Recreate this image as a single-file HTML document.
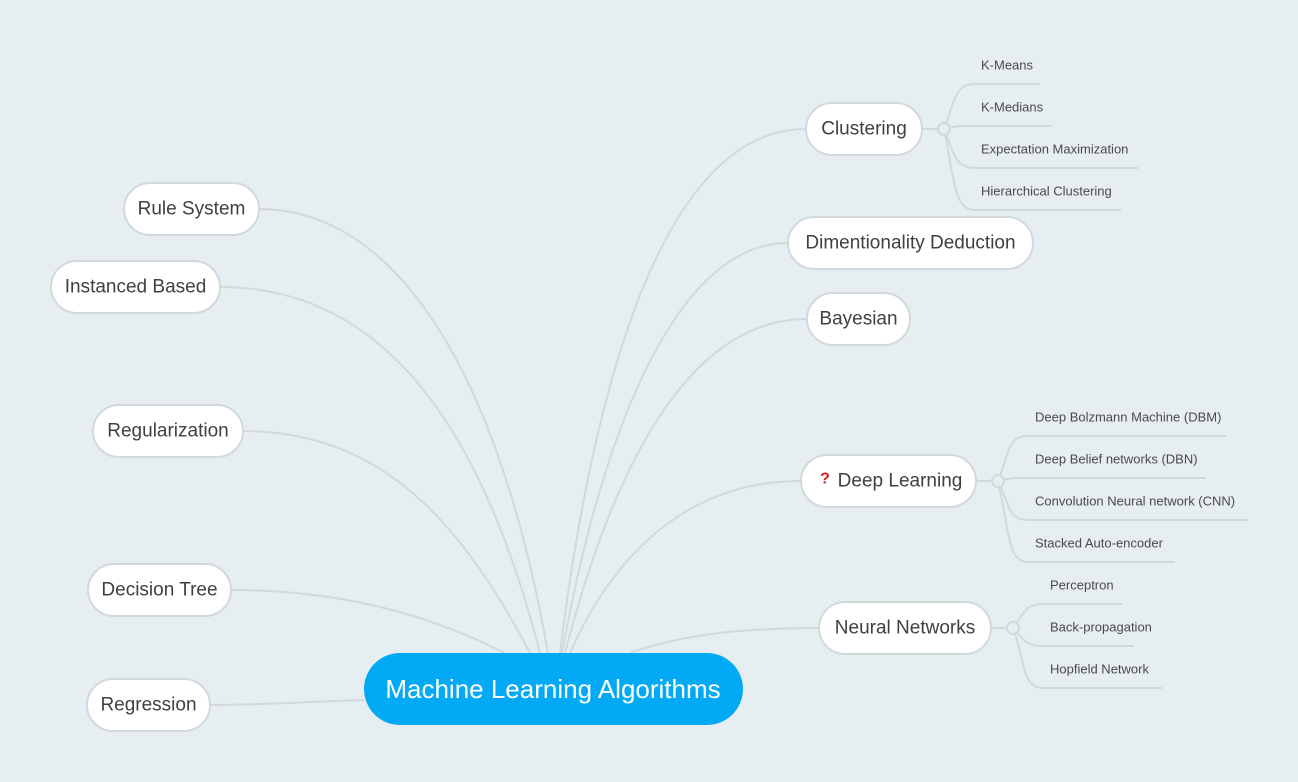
<!DOCTYPE html>
<html><head><meta charset="utf-8"><style>
html,body{margin:0;padding:0;background:#e6eef2;}
svg{display:block;font-family:"Liberation Sans",sans-serif;}
.n{fill:#fff;stroke:#d2d9dd;stroke-width:2;}
.t{font-size:19px;fill:#404040;text-anchor:middle;dominant-baseline:central;}
.l{font-size:13px;fill:#4a4a4a;dominant-baseline:central;}
.c{fill:none;stroke:#d2d9dd;stroke-width:2;}
</style></head><body>
<svg width="1298" height="782" viewBox="0 0 1298 782">
<g class="c">
<path d="M364 700 C300 702 260 705 210 705"/>
<path d="M505 653 C420 610 330 590 231 590"/>
<path d="M530 653 C460 520 380 431 243 431"/>
<path d="M540 653 C480 420 380 287 220 287"/>
<path d="M548 653 C500 380 400 209 259 209"/>
<path d="M560 653 C600 330 680 129 806 129"/>
<path d="M562 653 C610 390 690 243 788 243"/>
<path d="M565 653 C620 440 700 319 807 319"/>
<path d="M570 653 C620 540 700 481 801 481"/>
<path d="M630 653 C680 635 740 628 819 628"/>
<path d="M922 129 H938"/>
<path d="M944 129 C955 100 955 84 975 84 H1040"/>
<path d="M944 129 C955 126 960 126 975 126 H1052"/>
<path d="M944 129 C955 155 955 168 975 168 H1138"/>
<path d="M944 129 C955 185 955 210 975 210 H1121"/>
<path d="M976 481 H992"/>
<path d="M998 481 C1010 450 1008 436 1028 436 H1226"/>
<path d="M998 481 C1010 478 1014 478 1028 478 H1206"/>
<path d="M998 481 C1010 505 1008 520 1028 520 H1248"/>
<path d="M998 481 C1010 535 1008 562 1028 562 H1175"/>
<path d="M991 628 H1007"/>
<path d="M1013 628 C1025 612 1025 604 1043 604 H1122"/>
<path d="M1013 628 C1025 640 1025 646 1043 646 H1134"/>
<path d="M1013 628 C1025 660 1022 688 1043 688 H1162"/>
</g>
<g fill="#e6eef2" stroke="#d2d9dd" stroke-width="2">
<circle cx="944" cy="129" r="6"/><circle cx="998" cy="481" r="6"/><circle cx="1013" cy="628" r="6"/>
</g>
<rect x="364" y="653" width="379" height="72" rx="36" fill="#02a9f4"/>
<text x="553" y="689" text-anchor="middle" dominant-baseline="central" font-size="26" fill="#fff">Machine Learning Algorithms</text>
<rect class="n" x="124" y="183" width="135" height="52" rx="26"/><text class="t" x="191.5" y="209">Rule System</text>
<rect class="n" x="51" y="261" width="169" height="52" rx="26"/><text class="t" x="135.5" y="287">Instanced Based</text>
<rect class="n" x="93" y="405" width="150" height="52" rx="26"/><text class="t" x="168" y="431">Regularization</text>
<rect class="n" x="88" y="564" width="143" height="52" rx="26"/><text class="t" x="159.5" y="590">Decision Tree</text>
<rect class="n" x="87" y="679" width="123" height="52" rx="26"/><text class="t" x="148.5" y="705">Regression</text>
<rect class="n" x="806" y="103" width="116" height="52" rx="26"/><text class="t" x="864" y="129">Clustering</text>
<rect class="n" x="788" y="217" width="245" height="52" rx="26"/><text class="t" x="910.5" y="243">Dimentionality Deduction</text>
<rect class="n" x="807" y="293" width="103" height="52" rx="26"/><text class="t" x="858.5" y="319">Bayesian</text>
<rect class="n" x="801" y="455" width="175" height="52" rx="26"/><text class="t" x="900" y="481">Deep Learning</text>
<text x="825" y="479" font-size="16" font-weight="bold" fill="#e02020" text-anchor="middle" dominant-baseline="central">?</text>
<rect class="n" x="819" y="602" width="172" height="52" rx="26"/><text class="t" x="905" y="628">Neural Networks</text>
<text class="l" x="981" y="65">K-Means</text>
<text class="l" x="981" y="107">K-Medians</text>
<text class="l" x="981" y="149">Expectation Maximization</text>
<text class="l" x="981" y="191">Hierarchical Clustering</text>
<text class="l" x="1035" y="417">Deep Bolzmann Machine (DBM)</text>
<text class="l" x="1035" y="459">Deep Belief networks (DBN)</text>
<text class="l" x="1035" y="501">Convolution Neural network (CNN)</text>
<text class="l" x="1035" y="543">Stacked Auto-encoder</text>
<text class="l" x="1050" y="585">Perceptron</text>
<text class="l" x="1050" y="627">Back-propagation</text>
<text class="l" x="1050" y="669">Hopfield Network</text>
</svg>
</body></html>
